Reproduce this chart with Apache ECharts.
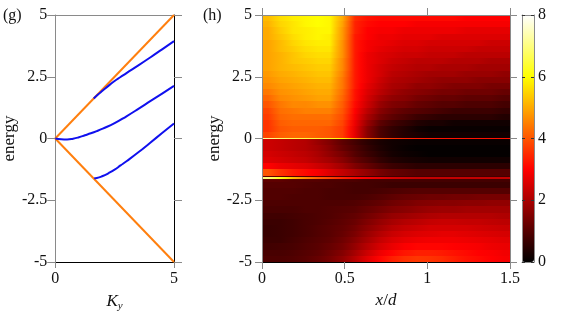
<!DOCTYPE html>
<html>
<head>
<meta charset="utf-8">
<script src="https://cdn.jsdelivr.net/npm/echarts@6/dist/echarts.min.js"></script>
<style>
html, body { margin: 0; padding: 0; background: #fff; }
#chart { width: 562px; height: 319px; }
</style>
</head>
<body>
<div id="chart"></div>
<script>
// (g) bands against K_y
const coneUp = [[0, 0], [5, 5]];
const coneDown = [[0, 0], [5, -5]];
const bandUpper = [[1.62, 1.62], [1.8, 1.78], [2.0, 1.94], [2.25, 2.14], [2.5, 2.33], [2.75, 2.49], [3.0, 2.65],
  [3.5, 2.96], [4.0, 3.28], [4.5, 3.61], [5.0, 3.94]];
const bandMiddle = [[0, 0], [0.25, -0.03], [0.5, -0.04], [0.75, -0.01], [1.0, 0.05], [1.25, 0.13], [1.5, 0.21],
  [1.75, 0.3], [2.0, 0.4], [2.5, 0.62], [3.0, 0.9], [3.5, 1.2], [4.0, 1.51], [4.5, 1.82], [5.0, 2.13]];
const bandLower = [[1.64, -1.61], [1.75, -1.6], [2.0, -1.52], [2.25, -1.4], [2.5, -1.26], [2.75, -1.09], [3.0, -0.92],
  [3.5, -0.56], [4.0, -0.17], [4.5, 0.22], [5.0, 0.61]];

// (h) map: x/d columns, energy rows
const xCols = [0.0375, 0.1125, 0.1875, 0.2625, 0.3375, 0.4125, 0.4875, 0.5625, 0.6375, 0.7125,
  0.7875, 0.8625, 0.9375, 1.0125, 1.0875, 1.1625, 1.2375, 1.3125, 1.3875, 1.4625];

const eUpper = [4.875, 4.625, 4.375, 4.125, 3.875, 3.625, 3.375, 3.125, 2.875, 2.625,
  2.375, 2.125, 1.875, 1.625, 1.375, 1.125, 0.875, 0.625, 0.375, 0.125];
const dosUpper = [
  [5.2, 5.6, 5.8, 5.9, 6.0, 5.9, 5.0, 3.5, 3.2, 3.1, 3.1, 3.1, 3.1, 3.1, 3.1, 3.1, 3.0, 3.0, 3.0, 3.0],
  [5.1, 5.5, 5.7, 5.9, 6.0, 5.9, 4.9, 3.4, 3.1, 3.0, 3.0, 3.0, 2.9, 2.9, 2.9, 2.9, 2.9, 2.9, 2.9, 2.9],
  [5.0, 5.4, 5.7, 5.8, 5.9, 5.9, 4.8, 3.4, 3.0, 2.9, 2.9, 2.8, 2.8, 2.8, 2.8, 2.8, 2.7, 2.7, 2.7, 2.7],
  [5.0, 5.3, 5.6, 5.8, 5.9, 5.8, 4.8, 3.3, 3.0, 2.8, 2.8, 2.7, 2.7, 2.7, 2.6, 2.6, 2.6, 2.6, 2.6, 2.6],
  [4.9, 5.2, 5.5, 5.7, 5.8, 5.8, 4.7, 3.3, 2.9, 2.8, 2.7, 2.6, 2.6, 2.5, 2.5, 2.5, 2.5, 2.5, 2.4, 2.4],
  [4.9, 5.2, 5.4, 5.6, 5.7, 5.7, 4.7, 3.3, 2.9, 2.7, 2.6, 2.5, 2.5, 2.4, 2.4, 2.4, 2.4, 2.3, 2.3, 2.3],
  [4.9, 5.1, 5.3, 5.5, 5.6, 5.6, 4.7, 3.3, 2.8, 2.6, 2.5, 2.4, 2.4, 2.3, 2.3, 2.3, 2.2, 2.2, 2.2, 2.2],
  [4.9, 5.1, 5.3, 5.4, 5.5, 5.5, 4.6, 3.3, 2.8, 2.6, 2.4, 2.3, 2.2, 2.2, 2.2, 2.1, 2.1, 2.1, 2.0, 2.0],
  [4.9, 5.1, 5.2, 5.3, 5.4, 5.4, 4.6, 3.3, 2.8, 2.5, 2.3, 2.2, 2.1, 2.1, 2.0, 2.0, 2.0, 1.9, 1.9, 1.9],
  [4.8, 5.0, 5.1, 5.2, 5.3, 5.3, 4.5, 3.3, 2.8, 2.5, 2.2, 2.1, 2.0, 1.9, 1.9, 1.9, 1.8, 1.8, 1.8, 1.7],
  [4.7, 4.9, 5.0, 5.1, 5.2, 5.2, 4.4, 3.3, 2.8, 2.4, 2.1, 2.0, 1.9, 1.8, 1.7, 1.7, 1.7, 1.6, 1.6, 1.6],
  [4.6, 4.8, 4.9, 5.0, 5.1, 5.1, 4.4, 3.3, 2.7, 2.3, 2.0, 1.9, 1.7, 1.7, 1.6, 1.5, 1.5, 1.5, 1.4, 1.4],
  [4.4, 4.7, 4.8, 4.9, 5.0, 5.0, 4.3, 3.2, 2.6, 2.2, 1.9, 1.7, 1.6, 1.5, 1.4, 1.4, 1.3, 1.3, 1.3, 1.2],
  [4.2, 4.6, 4.7, 4.8, 4.9, 4.9, 4.2, 3.2, 2.5, 2.0, 1.7, 1.6, 1.4, 1.3, 1.2, 1.2, 1.1, 1.1, 1.1, 1.0],
  [4.0, 4.4, 4.6, 4.6, 4.7, 4.7, 4.1, 3.1, 2.4, 1.8, 1.5, 1.4, 1.2, 1.1, 1.0, 1.0, 0.9, 0.9, 0.9, 0.8],
  [3.8, 4.3, 4.4, 4.5, 4.5, 4.5, 4.0, 3.0, 2.2, 1.6, 1.3, 1.1, 1.0, 0.9, 0.8, 0.7, 0.7, 0.7, 0.7, 0.6],
  [3.7, 4.2, 4.3, 4.3, 4.3, 4.3, 3.9, 2.9, 2.0, 1.4, 1.1, 0.9, 0.7, 0.6, 0.5, 0.5, 0.5, 0.5, 0.5, 0.4],
  [3.6, 4.1, 4.2, 4.2, 4.2, 4.2, 3.8, 2.8, 1.8, 1.1, 0.8, 0.6, 0.4, 0.3, 0.3, 0.2, 0.2, 0.2, 0.2, 0.2],
  [3.6, 4.0, 4.1, 4.1, 4.1, 4.0, 3.7, 2.7, 1.6, 0.9, 0.6, 0.4, 0.2, 0.1, 0.1, 0.1, 0.1, 0.1, 0.1, 0.1],
  [3.8, 4.1, 4.2, 4.2, 4.1, 4.0, 3.7, 2.7, 1.6, 0.9, 0.6, 0.4, 0.3, 0.2, 0.2, 0.2, 0.2, 0.2, 0.2, 0.2],
];

const eMiddle = [-0.125, -0.375, -0.625, -0.875, -1.125, -1.375];
const dosMiddle = [
  [2.4, 2.3, 2.2, 2.1, 1.8, 1.5, 1.1, 0.8, 0.5, 0.3, 0.2, 0.15, 0.1, 0.1, 0.1, 0.1, 0.1, 0.1, 0.1, 0.1],
  [2.4, 2.3, 2.2, 2.1, 1.9, 1.6, 1.2, 0.9, 0.6, 0.35, 0.2, 0.1, 0.05, 0.05, 0.05, 0.05, 0.05, 0.05, 0.05, 0.05],
  [2.5, 2.4, 2.3, 2.2, 2.0, 1.7, 1.4, 1.0, 0.7, 0.45, 0.25, 0.15, 0.1, 0.05, 0.05, 0.05, 0.05, 0.05, 0.05, 0.05],
  [2.6, 2.5, 2.4, 2.3, 2.1, 1.9, 1.6, 1.2, 0.9, 0.6, 0.4, 0.3, 0.25, 0.2, 0.2, 0.2, 0.2, 0.2, 0.2, 0.2],
  [3.0, 2.8, 2.7, 2.6, 2.4, 2.2, 1.9, 1.5, 1.2, 0.9, 0.7, 0.6, 0.5, 0.5, 0.5, 0.5, 0.5, 0.5, 0.5, 0.5],
  [4.0, 3.6, 3.3, 3.1, 2.9, 2.6, 2.3, 2.0, 1.7, 1.4, 1.2, 1.1, 1.0, 1.0, 1.0, 1.0, 1.0, 1.0, 1.0, 1.0],
];

const eLower = [-1.625, -1.875, -2.125, -2.375, -2.625, -2.875, -3.125, -3.375, -3.625, -3.875,
  -4.125, -4.375, -4.625, -4.875];
const dosLower = [
  [1.1, 1.1, 1.0, 1.0, 1.0, 0.9, 0.9, 0.9, 0.8, 0.8, 0.8, 0.8, 0.8, 0.8, 0.8, 0.8, 0.8, 0.8, 0.8, 0.8],
  [1.0, 1.0, 1.0, 0.95, 0.9, 0.9, 0.85, 0.8, 0.8, 0.75, 0.7, 0.7, 0.7, 0.7, 0.7, 0.7, 0.7, 0.7, 0.7, 0.7],
  [0.95, 0.95, 0.95, 0.9, 0.9, 0.85, 0.85, 0.8, 0.8, 0.85, 0.9, 0.95, 1.0, 1.0, 1.0, 1.0, 1.0, 1.0, 1.0, 1.0],
  [0.95, 0.95, 0.9, 0.9, 0.9, 0.85, 0.85, 0.85, 0.9, 1.0, 1.1, 1.2, 1.25, 1.3, 1.3, 1.35, 1.35, 1.4, 1.4, 1.4],
  [0.9, 0.9, 0.9, 0.9, 0.9, 0.9, 0.9, 0.95, 1.05, 1.15, 1.3, 1.4, 1.5, 1.55, 1.6, 1.6, 1.65, 1.65, 1.7, 1.7],
  [0.85, 0.85, 0.85, 0.9, 0.9, 0.95, 1.0, 1.05, 1.2, 1.35, 1.5, 1.6, 1.7, 1.8, 1.85, 1.85, 1.9, 1.9, 1.9, 1.9],
  [0.75, 0.75, 0.8, 0.85, 0.9, 0.95, 1.05, 1.15, 1.35, 1.55, 1.75, 1.85, 1.95, 2.05, 2.1, 2.1, 2.1, 2.1, 2.1, 2.05],
  [0.7, 0.7, 0.75, 0.85, 0.9, 1.0, 1.1, 1.25, 1.5, 1.75, 1.95, 2.1, 2.2, 2.3, 2.35, 2.35, 2.3, 2.3, 2.25, 2.2],
  [0.65, 0.7, 0.75, 0.85, 0.95, 1.05, 1.15, 1.35, 1.65, 1.9, 2.15, 2.3, 2.4, 2.5, 2.5, 2.5, 2.5, 2.45, 2.4, 2.35],
  [0.65, 0.7, 0.75, 0.85, 0.95, 1.05, 1.2, 1.45, 1.8, 2.1, 2.35, 2.5, 2.6, 2.65, 2.7, 2.7, 2.65, 2.6, 2.55, 2.5],
  [0.7, 0.7, 0.8, 0.9, 1.0, 1.1, 1.3, 1.6, 1.95, 2.3, 2.55, 2.7, 2.8, 2.85, 2.85, 2.85, 2.8, 2.75, 2.7, 2.65],
  [0.75, 0.8, 0.85, 0.95, 1.05, 1.2, 1.4, 1.75, 2.15, 2.5, 2.75, 2.95, 3.05, 3.05, 3.05, 3.0, 2.95, 2.9, 2.8, 2.75],
  [0.85, 0.85, 0.9, 1.0, 1.1, 1.3, 1.55, 1.95, 2.4, 2.8, 3.05, 3.25, 3.35, 3.35, 3.3, 3.2, 3.1, 3.0, 2.95, 2.85],
  [0.9, 0.9, 0.95, 1.05, 1.2, 1.4, 1.7, 2.15, 2.65, 3.05, 3.35, 3.55, 3.65, 3.6, 3.5, 3.35, 3.2, 3.1, 3.0, 2.9],
];

// thin bright lines at the band edges
const lineEnergies = [0, -1.58];
const lineValues = [
  [7.2, 6.8, 6.6, 6.5, 6.4, 6.3, 6.0, 5.0, 4.3, 3.9, 3.6, 3.4, 3.3, 3.3, 3.2, 3.2, 3.2, 3.2, 3.2, 3.2],
  [7.0, 6.2, 5.2, 4.6, 4.1, 3.8, 3.4, 3.1, 2.9, 2.7, 2.5, 2.4, 2.3, 2.3, 2.3, 2.3, 2.3, 2.3, 2.3, 2.3],
];

const colorMin = 0;
const colorMax = 8;
const hotColors = ['#000000', '#550000', '#aa0000', '#ff0000', '#ff5500', '#ffaa00', '#ffff00', '#ffff80', '#ffffff'];

const chart = echarts.init(document.getElementById('chart'));
const font = "'Liberation Serif', 'DejaVu Serif', serif";
const gray = '#8a8a8a';

const xStep = xCols[1] - xCols[0];
// each cell keeps its neighbours' readings so the fill can blend across the column edge
function cellsFrom(energies, rows, half) {
  const out = [];
  energies.forEach((e, i) => {
    const row = rows[i];
    row.forEach((v, j) => {
      const vl = j > 0 ? row[j - 1] : v;
      const vr = j < row.length - 1 ? row[j + 1] : v;
      out.push([xCols[j] - xStep / 2, xCols[j] + xStep / 2, e - half, e + half, v, vl, vr]);
    });
  });
  return out;
}
const mapCells = [].concat(
  cellsFrom(eUpper, dosUpper, 0.125),
  cellsFrom(eMiddle, dosMiddle, 0.125),
  cellsFrom(eLower, dosLower, 0.125)
);
const lineCells = cellsFrom(lineEnergies, lineValues, 0.04);

function hot(v) {
  const t = Math.min(1, Math.max(0, (v - colorMin) / (colorMax - colorMin)));
  return echarts.color.lerp(t, hotColors);
}

function renderCell(params, api) {
  const a = api.coord([api.value(0), api.value(3)]);
  const b = api.coord([api.value(1), api.value(2)]);
  const x = Math.round(a[0]);
  const y = Math.round(a[1]);
  const v = api.value(4);
  return {
    type: 'rect',
    shape: { x: x, y: y, width: Math.round(b[0]) - x, height: Math.max(1, Math.round(b[1]) - y) },
    style: {
      fill: new echarts.graphic.LinearGradient(0, 0, 1, 0, [
        { offset: 0, color: hot((v + api.value(5)) / 2) },
        { offset: 0.5, color: hot(v) },
        { offset: 1, color: hot((v + api.value(6)) / 2) },
      ]),
    },
  };
}

const labelStyle = { color: '#111', fontFamily: font, fontSize: 16 };

function frameAxis(extra) {
  return Object.assign({
    type: 'value',
    splitLine: { show: false },
    axisLabel: { show: false },
    axisTick: { show: false },
    axisLine: { onZero: false, lineStyle: { color: gray, width: 1 } },
  }, extra);
}

const cellDims = ['x0', 'x1', 'e0', 'e1', 'value', 'left', 'right'];
const bandLine = { color: '#1010ee', width: 2 };

chart.setOption({
  animation: false,
  textStyle: { fontFamily: font },
  grid: [
    { left: 51, top: 15, width: 123, height: 247 },
    { left: 262, top: 15, width: 248, height: 247 },
    { left: 522, top: 15, width: 12, height: 247 },
  ],
  xAxis: [
    frameAxis({
      gridIndex: 0, min: 0, max: 5, interval: 5, position: 'bottom',
      axisLine: { onZero: false, lineStyle: { color: '#000' } },
      axisTick: { show: true, length: 6, lineStyle: { color: gray } },
      axisLabel: Object.assign({ show: true, margin: 9 }, labelStyle),
      name: '{k|K}{s|y}', nameLocation: 'middle', nameGap: 30,
      nameTextStyle: {
        rich: {
          k: { fontFamily: font, fontStyle: 'italic', fontSize: 17, color: '#111' },
          s: { fontFamily: font, fontStyle: 'italic', fontSize: 11, color: '#111', padding: [9, 0, 0, 0] },
        },
      },
    }),
    frameAxis({ gridIndex: 0, min: 0, max: 5, position: 'top' }),
    frameAxis({
      gridIndex: 1, min: 0, max: 1.5, interval: 0.5, position: 'bottom', z: 5,
      axisLine: { onZero: false, lineStyle: { color: '#000' } },
      axisTick: { show: true, length: 7, lineStyle: { color: gray } },
      axisLabel: Object.assign({ show: true, margin: 9 }, labelStyle),
      name: '{i|x}/{i|d}', nameLocation: 'middle', nameGap: 29,
      nameTextStyle: {
        fontFamily: font, fontSize: 17, color: '#111',
        rich: { i: { fontFamily: font, fontStyle: 'italic', fontSize: 17, color: '#111' } },
      },
    }),
    frameAxis({
      gridIndex: 1, min: 0, max: 1.5, interval: 0.5, position: 'top', z: 5,
      axisTick: { show: true, length: 7, lineStyle: { color: gray } },
    }),
    frameAxis({ gridIndex: 2, min: 0, max: 1, position: 'bottom', z: 10 }),
    frameAxis({ gridIndex: 2, min: 0, max: 1, position: 'top', z: 10 }),
  ],
  yAxis: [
    frameAxis({
      gridIndex: 0, min: -5, max: 5, interval: 2.5, position: 'left',
      axisTick: { show: true, length: 8, lineStyle: { color: gray } },
      axisLabel: Object.assign({ show: true, margin: 8 }, labelStyle),
      name: 'energy', nameLocation: 'middle', nameGap: 30, nameRotate: 90,
      nameTextStyle: { fontFamily: font, fontSize: 17, color: '#111' },
    }),
    frameAxis({
      gridIndex: 0, min: -5, max: 5, interval: 2.5, position: 'right',
      axisLine: { onZero: false, lineStyle: { color: '#000' } },
      axisTick: { show: true, length: 8, lineStyle: { color: gray } },
    }),
    frameAxis({
      gridIndex: 1, min: -5, max: 5, interval: 2.5, position: 'left', z: 5,
      axisTick: { show: true, length: 7, lineStyle: { color: gray } },
      axisLabel: Object.assign({ show: true, margin: 10 }, labelStyle),
      name: 'energy', nameLocation: 'middle', nameGap: 38, nameRotate: 90,
      nameTextStyle: { fontFamily: font, fontSize: 17, color: '#111' },
    }),
    frameAxis({
      gridIndex: 1, min: -5, max: 5, interval: 2.5, position: 'right', z: 5,
      axisTick: { show: true, length: 7, lineStyle: { color: gray } },
    }),
    frameAxis({
      gridIndex: 2, min: colorMin, max: colorMax, interval: 2, position: 'right', z: 10,
      axisTick: { show: true, inside: true, length: 3, lineStyle: { color: '#333' } },
      axisLabel: Object.assign({ show: true, margin: 4 }, labelStyle),
    }),
    frameAxis({
      gridIndex: 2, min: colorMin, max: colorMax, interval: 2, position: 'left', z: 10,
      axisTick: { show: true, inside: true, length: 3, lineStyle: { color: '#333' } },
    }),
  ],
  visualMap: {
    type: 'continuous',
    min: colorMin, max: colorMax,
    dimension: 4,
    seriesIndex: [5, 6],
    calculable: false,
    hoverLink: false,
    left: 522, top: 15,
    itemWidth: 12, itemHeight: 247,
    padding: 0,
    text: null,
    inRange: { color: hotColors },
  },
  graphic: [
    { type: 'text', left: 3, top: 8, style: { text: '(g)', font: '16px "Liberation Serif", serif', fill: '#111' } },
    { type: 'text', left: 203, top: 8, style: { text: '(h)', font: '16px "Liberation Serif", serif', fill: '#111' } },
  ],
  series: [
    { type: 'line', data: coneUp, xAxisIndex: 0, yAxisIndex: 0, symbol: 'none', z: 3,
      lineStyle: { color: '#ff7f0e', width: 2 } },
    { type: 'line', data: coneDown, xAxisIndex: 0, yAxisIndex: 0, symbol: 'none', z: 3,
      lineStyle: { color: '#ff7f0e', width: 2 } },
    { type: 'line', data: bandUpper, xAxisIndex: 0, yAxisIndex: 0, symbol: 'none', smooth: 0.5, lineStyle: bandLine },
    { type: 'line', data: bandMiddle, xAxisIndex: 0, yAxisIndex: 0, symbol: 'none', smooth: 0.5, lineStyle: bandLine },
    { type: 'line', data: bandLower, xAxisIndex: 0, yAxisIndex: 0, symbol: 'none', smooth: 0.5, lineStyle: bandLine },
    { type: 'custom', xAxisIndex: 2, yAxisIndex: 2, data: mapCells, renderItem: renderCell, clip: true,
      dimensions: cellDims, encode: { x: [0, 1], y: [2, 3] } },
    { type: 'custom', xAxisIndex: 2, yAxisIndex: 2, data: lineCells, renderItem: renderCell, clip: true,
      dimensions: cellDims, encode: { x: [0, 1], y: [2, 3] } },
  ],
});
</script>
</body>
</html>
